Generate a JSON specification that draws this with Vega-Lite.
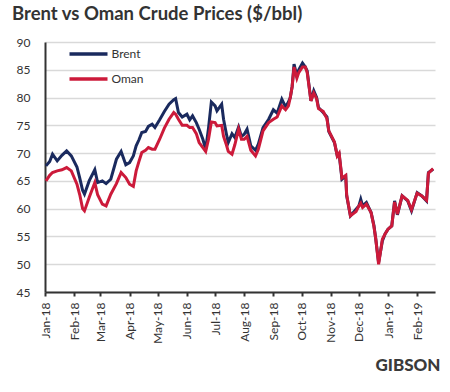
{
  "$schema": "https://vega.github.io/schema/vega-lite/v6.json",
  "width": 390,
  "height": 250,
  "padding": {"left": 12, "top": 4, "right": 5, "bottom": 5},
  "background": "white",
  "config": {"font": "Lato", "view": {"stroke": null}},
  "title": {"text": "Brent vs Oman Crude Prices ($/bbl)", "anchor": "start", "fontSize": 18.5, "fontWeight": "bold", "color": "#333333", "offset": 13},
  "data": {"values": [
    {"date":"2018-01-02","series":"Brent","price":67.7},{"date":"2018-01-06","series":"Brent","price":68.5},{"date":"2018-01-09","series":"Brent","price":69.8},{"date":"2018-01-14","series":"Brent","price":68.6},{"date":"2018-01-19","series":"Brent","price":69.6},{"date":"2018-01-24","series":"Brent","price":70.4},{"date":"2018-01-29","series":"Brent","price":69.5},
    {"date":"2018-02-04","series":"Brent","price":67.5},{"date":"2018-02-07","series":"Brent","price":65.5},{"date":"2018-02-10","series":"Brent","price":63.3},{"date":"2018-02-12","series":"Brent","price":62.6},{"date":"2018-02-17","series":"Brent","price":65.0},{"date":"2018-02-23","series":"Brent","price":67.0},{"date":"2018-02-26","series":"Brent","price":64.7},
    {"date":"2018-03-03","series":"Brent","price":65.0},{"date":"2018-03-07","series":"Brent","price":64.5},{"date":"2018-03-12","series":"Brent","price":65.3},{"date":"2018-03-18","series":"Brent","price":68.9},{"date":"2018-03-23","series":"Brent","price":70.3},{"date":"2018-03-28","series":"Brent","price":67.9},
    {"date":"2018-04-01","series":"Brent","price":68.3},{"date":"2018-04-05","series":"Brent","price":69.5},{"date":"2018-04-08","series":"Brent","price":71.3},{"date":"2018-04-11","series":"Brent","price":72.4},{"date":"2018-04-14","series":"Brent","price":73.7},{"date":"2018-04-18","series":"Brent","price":73.9},{"date":"2018-04-21","series":"Brent","price":74.8},{"date":"2018-04-25","series":"Brent","price":75.2},{"date":"2018-04-28","series":"Brent","price":74.6},
    {"date":"2018-05-03","series":"Brent","price":76.0},{"date":"2018-05-08","series":"Brent","price":77.5},{"date":"2018-05-13","series":"Brent","price":78.8},{"date":"2018-05-18","series":"Brent","price":79.6},{"date":"2018-05-20","series":"Brent","price":79.8},{"date":"2018-05-23","series":"Brent","price":77.3},{"date":"2018-05-27","series":"Brent","price":76.5},
    {"date":"2018-06-01","series":"Brent","price":77.0},{"date":"2018-06-04","series":"Brent","price":76.0},{"date":"2018-06-07","series":"Brent","price":76.7},{"date":"2018-06-11","series":"Brent","price":75.5},{"date":"2018-06-14","series":"Brent","price":74.3},{"date":"2018-06-18","series":"Brent","price":72.5},{"date":"2018-06-21","series":"Brent","price":70.7},{"date":"2018-06-24","series":"Brent","price":74.5},{"date":"2018-06-27","series":"Brent","price":79.2},
    {"date":"2018-07-01","series":"Brent","price":78.5},{"date":"2018-07-03","series":"Brent","price":77.6},{"date":"2018-07-08","series":"Brent","price":78.8},{"date":"2018-07-10","series":"Brent","price":76.1},{"date":"2018-07-13","series":"Brent","price":73.5},{"date":"2018-07-15","series":"Brent","price":71.9},{"date":"2018-07-19","series":"Brent","price":73.5},{"date":"2018-07-22","series":"Brent","price":72.8},{"date":"2018-07-26","series":"Brent","price":74.7},{"date":"2018-07-29","series":"Brent","price":73.0},
    {"date":"2018-08-01","series":"Brent","price":73.4},{"date":"2018-08-04","series":"Brent","price":74.3},{"date":"2018-08-08","series":"Brent","price":71.3},{"date":"2018-08-13","series":"Brent","price":70.5},{"date":"2018-08-16","series":"Brent","price":71.6},{"date":"2018-08-21","series":"Brent","price":74.6},{"date":"2018-08-27","series":"Brent","price":76.1},
    {"date":"2018-09-01","series":"Brent","price":77.8},{"date":"2018-09-05","series":"Brent","price":77.2},{"date":"2018-09-10","series":"Brent","price":79.7},{"date":"2018-09-14","series":"Brent","price":78.3},{"date":"2018-09-17","series":"Brent","price":79.2},{"date":"2018-09-19","series":"Brent","price":80.0},{"date":"2018-09-21","series":"Brent","price":82.0},{"date":"2018-09-23","series":"Brent","price":86.0},{"date":"2018-09-26","series":"Brent","price":83.9},{"date":"2018-09-28","series":"Brent","price":85.0},
    {"date":"2018-10-02","series":"Brent","price":86.2},{"date":"2018-10-05","series":"Brent","price":85.5},{"date":"2018-10-07","series":"Brent","price":84.8},{"date":"2018-10-11","series":"Brent","price":79.4},{"date":"2018-10-14","series":"Brent","price":81.2},{"date":"2018-10-17","series":"Brent","price":80.0},{"date":"2018-10-19","series":"Brent","price":78.2},{"date":"2018-10-24","series":"Brent","price":77.3},{"date":"2018-10-28","series":"Brent","price":76.5},{"date":"2018-10-30","series":"Brent","price":73.9},
    {"date":"2018-11-05","series":"Brent","price":71.9},{"date":"2018-11-08","series":"Brent","price":69.5},{"date":"2018-11-10","series":"Brent","price":69.8},{"date":"2018-11-13","series":"Brent","price":65.3},{"date":"2018-11-17","series":"Brent","price":65.9},{"date":"2018-11-18","series":"Brent","price":62.3},{"date":"2018-11-22","series":"Brent","price":58.7},{"date":"2018-11-28","series":"Brent","price":59.9},
    {"date":"2018-12-01","series":"Brent","price":60.5},{"date":"2018-12-03","series":"Brent","price":61.7},{"date":"2018-12-05","series":"Brent","price":60.5},{"date":"2018-12-09","series":"Brent","price":61.1},{"date":"2018-12-14","series":"Brent","price":59.3},{"date":"2018-12-17","series":"Brent","price":57.0},{"date":"2018-12-19","series":"Brent","price":54.5},{"date":"2018-12-22","series":"Brent","price":50.3},{"date":"2018-12-26","series":"Brent","price":54.2},{"date":"2018-12-29","series":"Brent","price":55.5},
    {"date":"2019-01-01","series":"Brent","price":56.3},{"date":"2019-01-05","series":"Brent","price":56.9},{"date":"2019-01-08","series":"Brent","price":61.4},{"date":"2019-01-11","series":"Brent","price":58.9},{"date":"2019-01-16","series":"Brent","price":62.3},{"date":"2019-01-22","series":"Brent","price":61.4},{"date":"2019-01-26","series":"Brent","price":59.6},
    {"date":"2019-02-01","series":"Brent","price":62.9},{"date":"2019-02-06","series":"Brent","price":62.3},{"date":"2019-02-11","series":"Brent","price":61.4},{"date":"2019-02-13","series":"Brent","price":66.5},{"date":"2019-02-18","series":"Brent","price":67.1},

    {"date":"2018-01-02","series":"Oman","price":65.0},{"date":"2018-01-06","series":"Oman","price":66.0},{"date":"2018-01-09","series":"Oman","price":66.5},{"date":"2018-01-14","series":"Oman","price":66.8},{"date":"2018-01-19","series":"Oman","price":67.0},{"date":"2018-01-24","series":"Oman","price":67.4},{"date":"2018-01-29","series":"Oman","price":66.8},
    {"date":"2018-02-04","series":"Oman","price":64.4},{"date":"2018-02-07","series":"Oman","price":62.5},{"date":"2018-02-10","series":"Oman","price":60.0},{"date":"2018-02-12","series":"Oman","price":59.6},{"date":"2018-02-17","series":"Oman","price":62.0},{"date":"2018-02-23","series":"Oman","price":64.7},{"date":"2018-02-26","series":"Oman","price":62.5},
    {"date":"2018-03-03","series":"Oman","price":60.8},{"date":"2018-03-07","series":"Oman","price":60.5},{"date":"2018-03-12","series":"Oman","price":62.6},{"date":"2018-03-18","series":"Oman","price":64.5},{"date":"2018-03-23","series":"Oman","price":66.5},{"date":"2018-03-28","series":"Oman","price":65.6},
    {"date":"2018-04-01","series":"Oman","price":64.4},{"date":"2018-04-05","series":"Oman","price":64.0},{"date":"2018-04-08","series":"Oman","price":66.8},{"date":"2018-04-11","series":"Oman","price":68.5},{"date":"2018-04-14","series":"Oman","price":70.1},{"date":"2018-04-18","series":"Oman","price":70.5},{"date":"2018-04-21","series":"Oman","price":71.0},{"date":"2018-04-25","series":"Oman","price":70.7},{"date":"2018-04-28","series":"Oman","price":70.7},
    {"date":"2018-05-03","series":"Oman","price":72.5},{"date":"2018-05-08","series":"Oman","price":74.5},{"date":"2018-05-13","series":"Oman","price":76.1},{"date":"2018-05-18","series":"Oman","price":77.3},{"date":"2018-05-20","series":"Oman","price":77.0},{"date":"2018-05-23","series":"Oman","price":76.1},{"date":"2018-05-27","series":"Oman","price":75.0},
    {"date":"2018-06-01","series":"Oman","price":75.0},{"date":"2018-06-04","series":"Oman","price":74.6},{"date":"2018-06-07","series":"Oman","price":74.6},{"date":"2018-06-11","series":"Oman","price":73.5},{"date":"2018-06-14","series":"Oman","price":71.9},{"date":"2018-06-18","series":"Oman","price":71.0},{"date":"2018-06-21","series":"Oman","price":70.3},{"date":"2018-06-24","series":"Oman","price":72.5},{"date":"2018-06-27","series":"Oman","price":75.6},
    {"date":"2018-07-01","series":"Oman","price":75.5},{"date":"2018-07-03","series":"Oman","price":74.9},{"date":"2018-07-08","series":"Oman","price":75.0},{"date":"2018-07-10","series":"Oman","price":73.0},{"date":"2018-07-13","series":"Oman","price":71.5},{"date":"2018-07-15","series":"Oman","price":70.3},{"date":"2018-07-19","series":"Oman","price":69.8},{"date":"2018-07-22","series":"Oman","price":71.5},{"date":"2018-07-26","series":"Oman","price":74.3},{"date":"2018-07-29","series":"Oman","price":72.5},
    {"date":"2018-08-01","series":"Oman","price":72.5},{"date":"2018-08-04","series":"Oman","price":73.0},{"date":"2018-08-08","series":"Oman","price":70.5},{"date":"2018-08-13","series":"Oman","price":69.5},{"date":"2018-08-16","series":"Oman","price":70.7},{"date":"2018-08-21","series":"Oman","price":74.0},{"date":"2018-08-27","series":"Oman","price":75.5},
    {"date":"2018-09-01","series":"Oman","price":76.1},{"date":"2018-09-05","series":"Oman","price":76.5},{"date":"2018-09-10","series":"Oman","price":78.5},{"date":"2018-09-14","series":"Oman","price":77.8},{"date":"2018-09-17","series":"Oman","price":78.5},{"date":"2018-09-19","series":"Oman","price":80.0},{"date":"2018-09-21","series":"Oman","price":82.0},{"date":"2018-09-23","series":"Oman","price":85.5},{"date":"2018-09-26","series":"Oman","price":83.5},{"date":"2018-09-28","series":"Oman","price":84.5},
    {"date":"2018-10-02","series":"Oman","price":85.5},{"date":"2018-10-05","series":"Oman","price":85.5},{"date":"2018-10-07","series":"Oman","price":84.5},{"date":"2018-10-11","series":"Oman","price":79.4},{"date":"2018-10-14","series":"Oman","price":80.8},{"date":"2018-10-17","series":"Oman","price":79.8},{"date":"2018-10-19","series":"Oman","price":78.0},{"date":"2018-10-24","series":"Oman","price":77.5},{"date":"2018-10-28","series":"Oman","price":76.2},{"date":"2018-10-30","series":"Oman","price":74.0},
    {"date":"2018-11-05","series":"Oman","price":72.0},{"date":"2018-11-08","series":"Oman","price":69.5},{"date":"2018-11-10","series":"Oman","price":70.0},{"date":"2018-11-13","series":"Oman","price":65.5},{"date":"2018-11-17","series":"Oman","price":66.0},{"date":"2018-11-18","series":"Oman","price":62.5},{"date":"2018-11-22","series":"Oman","price":58.7},{"date":"2018-11-28","series":"Oman","price":59.5},
    {"date":"2018-12-01","series":"Oman","price":60.5},{"date":"2018-12-03","series":"Oman","price":61.0},{"date":"2018-12-05","series":"Oman","price":60.2},{"date":"2018-12-09","series":"Oman","price":60.8},{"date":"2018-12-14","series":"Oman","price":59.3},{"date":"2018-12-17","series":"Oman","price":56.8},{"date":"2018-12-19","series":"Oman","price":54.5},{"date":"2018-12-22","series":"Oman","price":50.0},{"date":"2018-12-26","series":"Oman","price":54.5},{"date":"2018-12-29","series":"Oman","price":55.5},
    {"date":"2019-01-01","series":"Oman","price":56.3},{"date":"2019-01-05","series":"Oman","price":56.9},{"date":"2019-01-08","series":"Oman","price":61.2},{"date":"2019-01-11","series":"Oman","price":59.0},{"date":"2019-01-16","series":"Oman","price":62.3},{"date":"2019-01-22","series":"Oman","price":61.5},{"date":"2019-01-26","series":"Oman","price":59.8},
    {"date":"2019-02-01","series":"Oman","price":62.8},{"date":"2019-02-06","series":"Oman","price":62.3},{"date":"2019-02-11","series":"Oman","price":61.5},{"date":"2019-02-13","series":"Oman","price":66.4},{"date":"2019-02-18","series":"Oman","price":67.2}
  ]},
  "mark": {"type": "line", "strokeWidth": 3, "interpolate": "linear"},
  "encoding": {
    "x": {
      "field": "date", "type": "temporal",
      "scale": {"type": "utc", "domain": [{"year": 2018, "month": 1, "date": 1, "utc": true}, {"year": 2019, "month": 2, "date": 20, "utc": true}], "nice": false},
      "axis": {
        "labelExpr": "utcFormat(datum.value, '%b-%y')",
        "tickCount": {"interval": "month", "step": 1},
        "labelAngle": 270, "labelAlign": "right", "labelBaseline": "middle",
        "labelFontSize": 12, "labelColor": "#333333", "labelPadding": 6,
        "labelFlush": false, "labelOverlap": false,
        "grid": false, "domainColor": "#333333", "domainWidth": 2,
        "tickColor": "#333333", "tickWidth": 2, "tickSize": 4,
        "title": "GIBSON", "titleFontSize": 17, "titleFontWeight": 900,
        "titleColor": "#3a3a3a", "titleAnchor": "end", "titleAlign": "right",
        "titleX": 395, "titlePadding": 14
      }
    },
    "y": {
      "field": "price", "type": "quantitative",
      "scale": {"domain": [45, 90], "nice": false, "zero": false},
      "axis": {
        "values": [45, 50, 55, 60, 65, 70, 75, 80, 85, 90],
        "title": null, "ticks": false, "labelFontSize": 12, "labelColor": "#333333",
        "labelPadding": 15, "minExtent": 33,
        "domainColor": "#333333", "domainWidth": 2,
        "gridColor": "#d9d9d9", "gridWidth": 1.5
      }
    },
    "color": {
      "field": "series", "type": "nominal",
      "scale": {"domain": ["Brent", "Oman"], "range": ["#1a2a5e", "#cc1a3a"]},
      "legend": {
        "title": null, "orient": "none", "legendX": 32, "legendY": 0.5,
        "symbolType": "M-2,0H2", "symbolSize": 361, "symbolStrokeWidth": 3.5,
        "labelOffset": 11.5, "labelFontSize": 12, "labelColor": "#333333",
        "rowPadding": 6, "padding": 0
      }
    }
  }
}
